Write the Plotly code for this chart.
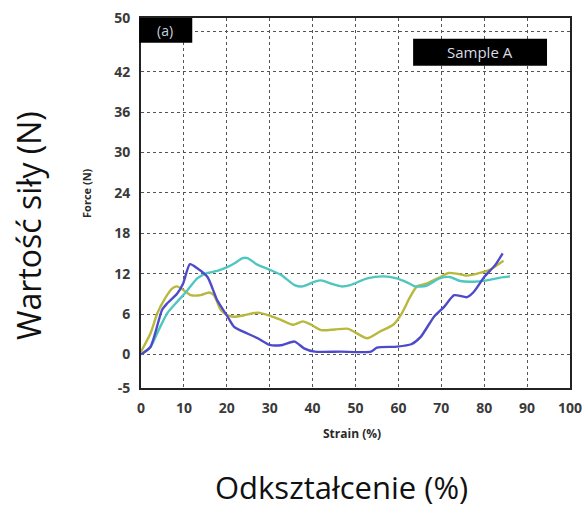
import plotly.graph_objects as go

# ---- data ----
blue_x = [0, 2.2, 4.9, 6, 8.4, 9.8, 11.4, 13.1, 15.5, 17.8, 20, 21.7, 24.8, 27.2, 30, 33, 35.8, 38, 40.5, 46.5, 53.6, 55, 59.7, 63, 65.2, 68.3, 70.7, 73, 76, 77.6, 80, 82.6, 84.3]
blue_y = [0, 1.1, 6.6, 7.5, 9, 10.5, 13.4, 12.8, 11.5, 8, 5.8, 4.1, 3.1, 2.4, 1.4, 1.4, 1.9, 0.9, 0.4, 0.4, 0.4, 1, 1.15, 1.5, 2.6, 5.6, 7.1, 8.8, 8.5, 9.3, 11.5, 13.3, 15]

olive_x = [0, 2.2, 3.8, 5.3, 7.3, 8.4, 10, 11.6, 13.9, 15.9, 17, 18.6, 20.2, 21.7, 24, 27.2, 30.3, 32.7, 35.4, 37.7, 39.7, 42, 45.2, 48.3, 52.7, 55.7, 58.8, 60.8, 62.7, 64.3, 66.5, 69.8, 71.7, 73.6, 76, 79, 81.4, 84.5]
olive_y = [0.4, 3.1, 6.1, 8, 9.8, 10.1, 9.5, 8.8, 8.8, 9.2, 8.8, 6.6, 5.8, 5.6, 5.8, 6.2, 5.7, 5.1, 4.4, 4.9, 4.4, 3.6, 3.7, 3.8, 2.4, 3.4, 4.4, 6.1, 8.5, 10.1, 10.5, 11.5, 12.1, 12, 11.7, 12.1, 12.6, 13.9]

teal_x = [0, 2.2, 4.1, 6.1, 8.4, 10.8, 13.1, 15.5, 17.8, 20.2, 21.7, 23.7, 24.8, 27.2, 30.3, 32.7, 35.8, 37.7, 40.5, 42, 44.4, 46.7, 48.8, 52.7, 56.5, 59.6, 62, 63.9, 66.5, 69.6, 72, 74.4, 77.5, 80.6, 83.7, 86]
teal_y = [0, 1.1, 3.6, 6.1, 7.8, 9.5, 11.3, 12.1, 12.4, 13, 13.5, 14.3, 14.3, 13.3, 12.5, 11.8, 10.3, 10.1, 10.8, 11, 10.5, 10.1, 10.3, 11.3, 11.6, 11.3, 10.7, 10.1, 10.2, 11.3, 11.5, 10.9, 10.8, 11, 11.4, 11.6]

x_ticks = [0, 10, 20, 30, 40, 50, 60, 70, 80, 90, 100]
y_ticks = [-5, 0, 6, 12, 18, 24, 30, 36, 42, 48, 50]
y_ticktext = ["-5", "0", "6", "12", "18", "24", "30", "36", "42", "", "50"]

# ---- figure ----
L, R, T, B = 140.7, 570.0, 18.3, 388.5
W, H = 584, 509
pw, ph = R - L, B - T

def px(x):
    return (x - L) / pw

def py(y):
    return (B - y) / ph

fig = go.Figure()
fig.add_trace(go.Scatter(x=olive_x, y=olive_y, mode="lines",
                         line=dict(color="#b9b83e", width=2.4, shape="spline", smoothing=0.6)))
fig.add_trace(go.Scatter(x=teal_x, y=teal_y, mode="lines",
                         line=dict(color="#4fc6bf", width=2.4, shape="spline", smoothing=0.6)))
fig.add_trace(go.Scatter(x=blue_x, y=blue_y, mode="lines",
                         line=dict(color="#4d4bc9", width=2.4, shape="spline", smoothing=0.6)))

tickfont = dict(family="Open Sans", size=14, color="#3a3a3a", weight="bold")
grid = dict(showgrid=True, gridcolor="#555555", griddash="dot", gridwidth=1,
            showline=True, linecolor="#222222", linewidth=2, mirror=True,
            zeroline=False, ticks="", tickfont=tickfont, automargin=False)

fig.update_xaxes(range=[0, 100], tickvals=x_ticks, ticklabelstandoff=6, **grid)
fig.update_yaxes(range=[-5, 50], tickvals=y_ticks, ticktext=y_ticktext,
                 ticklabelstandoff=6, **grid)

shapes = [
    dict(type="rect", xref="paper", yref="paper", x0=px(139), x1=px(192), y0=py(43), y1=py(18.3),
         fillcolor="black", line=dict(width=0)),
    dict(type="rect", xref="paper", yref="paper", x0=px(413), x1=px(547), y0=py(66), y1=py(39),
         fillcolor="black", line=dict(width=0)),
]

ann = [
    dict(text="(a)", x=px(165), y=py(31), font=dict(family="Open Sans", size=14, color="#c8d0dc")),
    dict(text="Sample A", x=px(480), y=py(52), font=dict(family="Open Sans", size=15, color="#d8dce4")),
    dict(text="Force (N)", x=px(86), y=py(193), textangle=-90,
         font=dict(family="Open Sans", size=11, color="#2a2a2a", weight="bold")),
    dict(text="Strain (%)", x=px(352), y=py(434),
         font=dict(family="Open Sans", size=12, color="#2a2a2a", weight="bold")),
    dict(text="Wartość siły (N)", x=px(28), y=py(226), textangle=-90,
         font=dict(family="Open Sans", size=32, color="#111111")),
    dict(text="Odkształcenie (%)", x=px(341), y=py(488),
         font=dict(family="Open Sans", size=31, color="#111111")),
]
for a in ann:
    a.update(xref="paper", yref="paper", showarrow=False, xanchor="center", yanchor="middle")

fig.update_layout(
    width=W, height=H,
    margin=dict(l=L, r=W - R, t=T, b=H - B, pad=0, autoexpand=False),
    paper_bgcolor="white", plot_bgcolor="white",
    showlegend=False,
    shapes=shapes, annotations=ann,
)

fig.write_html("out.html")
